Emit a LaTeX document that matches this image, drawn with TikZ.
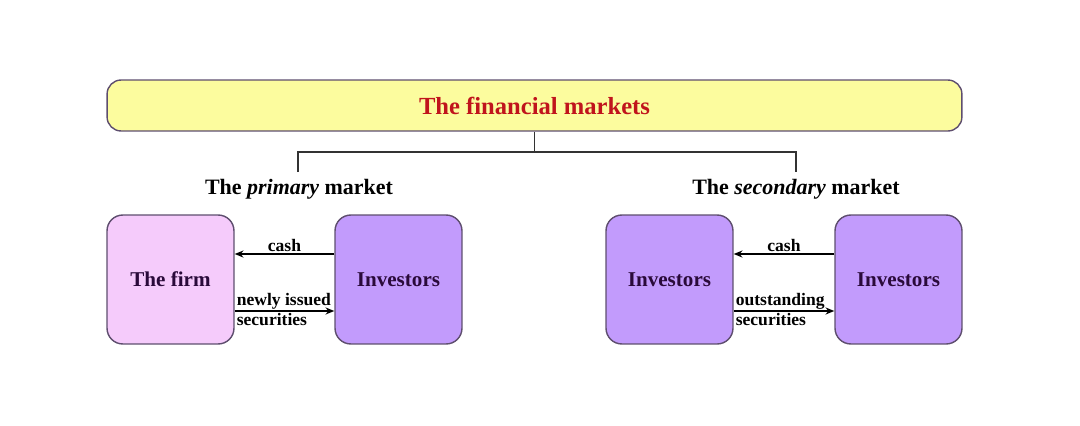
\documentclass[tikz,border=0pt]{standalone}
\usepackage{fontspec}
\setmainfont{Liberation Serif}
\usetikzlibrary{arrows.meta}
\definecolor{titlefill}{HTML}{FCFC9E}
\definecolor{titlered}{HTML}{C0141C}
\definecolor{firmfill}{HTML}{F5CBFB}
\definecolor{invfill}{HTML}{C29BFC}
\definecolor{boxline}{HTML}{5E4E6E}
\definecolor{boxtext}{HTML}{2A0A3A}
\tikzset{
  box/.style={draw=boxline, line width=0.8pt, rounded corners=9pt,
    minimum width=2.54cm, minimum height=2.58cm,
    font=\fontsize{12}{14}\selectfont\bfseries, text=boxtext},
  firmbox/.style={box, fill=firmfill},
  invbox/.style={box, fill=invfill},
  flow/.style={line width=1.2pt, -{Stealth[length=5pt,width=4pt]}},
  lbl/.style={font=\fontsize{10}{11}\selectfont\bfseries, inner sep=1pt},
  head/.style={font=\fontsize{12.5}{14}\selectfont\bfseries}
}
\begin{document}
\begin{tikzpicture}[x=0.02cm, y=-0.02cm]
  \useasboundingbox (0,0) rectangle (1080,426);
  % top box
  \node[draw=boxline, line width=0.8pt, fill=titlefill, rounded corners=8pt,
    minimum width=17.1cm, minimum height=1.02cm, text=titlered,
    font=\fontsize{14}{16}\selectfont\bfseries] (title) at (534.5,105.5) {The financial markets};
  \coordinate (split) at (534.5,152);
  \coordinate (pleft) at (298,172);
  \coordinate (pright) at (796,172);
  \draw[black!80, line width=0.6pt] (title.south) -- (split);
  \draw[black!80, line width=0.6pt] (pleft) |- (split) -| (pright);
  \node[head] (prim) at (299,189) {The \textit{primary} market};
  \node[head] (sec) at (796,189) {The \textit{secondary} market};
  % primary market
  \node[firmbox] (firm) at (170.5,279.5) {The firm};
  \node[invbox] (inva) at (398.5,279.5) {Investors};
  \draw[flow] ([yshift=0.51cm]inva.west) -- ([yshift=0.51cm]firm.east)
    node[lbl, midway, above] (casha) {cash};
  \draw[flow] ([yshift=-0.63cm]firm.east) -- ([yshift=-0.63cm]inva.west);
  \node[lbl, anchor=south west, inner sep=1pt] (newa) at ([yshift=-0.63cm]firm.east) {newly issued};
  \node[lbl, anchor=north west, inner sep=1pt] (seca) at ([yshift=-0.63cm]firm.east) {securities};
  % secondary market
  \node[invbox] (invb) at (669.5,279.5) {Investors};
  \node[invbox] (invc) at (898.5,279.5) {Investors};
  \draw[flow] ([yshift=0.51cm]invc.west) -- ([yshift=0.51cm]invb.east)
    node[lbl, midway, above] (cashb) {cash};
  \draw[flow] ([yshift=-0.63cm]invb.east) -- ([yshift=-0.63cm]invc.west);
  \node[lbl, anchor=south west, inner sep=1pt] (outb) at ([yshift=-0.63cm]invb.east) {outstanding};
  \node[lbl, anchor=north west, inner sep=1pt] (secb) at ([yshift=-0.63cm]invb.east) {securities};
\end{tikzpicture}
\end{document}
